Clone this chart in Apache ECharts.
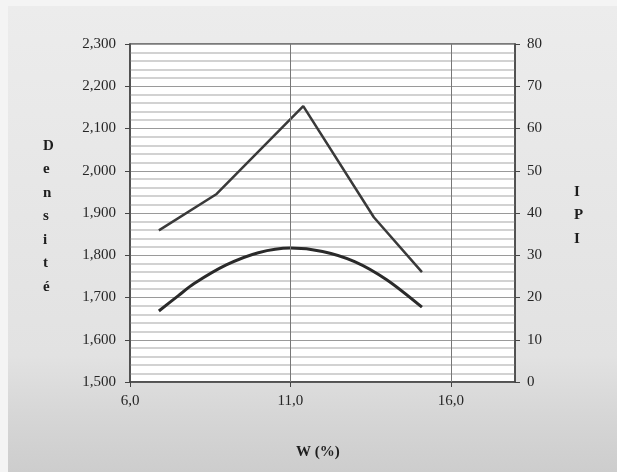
<!DOCTYPE html>
<html>
<head>
<meta charset="utf-8">
<script src="https://cdn.jsdelivr.net/npm/echarts@6/dist/echarts.min.js"></script>
<style>
html,body{margin:0;padding:0;background:#f4f4f4;}
#chart{width:617px;height:472px;}
</style>
</head>
<body>
<div id="chart"></div>
<script>
// IPI curve (right axis)
const ipiW = [6.9, 8.7, 11.4, 13.6, 15.1];
const ipiValues = [35.9, 44.5, 65.3, 39.0, 26.0];
// Density curve (left axis)
const densW = [6.9, 7.5, 8.0, 9.0, 10.0, 11.0, 12.0, 13.0, 14.0, 15.1];
const densValues = [1668, 1704, 1733, 1777, 1806, 1817, 1809, 1785, 1742, 1677];
const xTicks = [6, 11, 16];
const leftTitle = 'Densité';
const rightTitle = 'IPI';
const xTitle = 'W (%)';

const chart = echarts.init(document.getElementById('chart'));
const fmtThousands = v => {
  const s = String(Math.round(v));
  return s.length > 3 ? s.slice(0, s.length - 3) + ',' + s.slice(-3) : s;
};
const serif = 'Liberation Serif';
const option = {
  animation: false,
  backgroundColor: 'transparent',
  graphic: [
    {type: 'rect', z: -10, shape: {x: 8, y: 6, width: 609, height: 466},
     style: {fill: new echarts.graphic.LinearGradient(0, 0, 0, 1, [
       {offset: 0, color: '#ececec'}, {offset: 0.75, color: '#e2e2e2'},
       {offset: 0.88, color: '#d6d6d6'}, {offset: 1, color: '#cdcdcd'}])}},
    {type: 'text', left: 43, top: 134, style: {text: leftTitle.split('').join('\n'), font: 'bold 15px "Liberation Serif"', lineHeight: 23.5, fill: '#1e1e1e', align: 'center'}},
    {type: 'text', left: 574, top: 180, style: {text: rightTitle.split('').join('\n'), font: 'bold 15px "Liberation Serif"', lineHeight: 23.5, fill: '#1e1e1e', align: 'center'}},
    {type: 'text', left: 296, top: 445, style: {text: xTitle, font: 'bold 15px "Liberation Serif"', fill: '#1e1e1e'}}
  ],
  grid: {left: 130, right: 102, top: 44, bottom: 90, show: true, backgroundColor: '#ffffff', borderColor: '#555', borderWidth: 1.5},
  xAxis: {
    type: 'value', min: 6, max: 18,
    axisLine: {show: true, lineStyle: {color: '#444', width: 1.5}},
    axisTick: {show: true, customValues: xTicks, length: 5, lineStyle: {color: '#444'}},
    axisLabel: {customValues: xTicks, formatter: v => v.toFixed(1).replace('.', ','), fontFamily: serif, fontSize: 15, color: '#262626', margin: 12},
    splitLine: {show: false}
  },
  yAxis: [
    {
      type: 'value', min: 1500, max: 2300, interval: 100, position: 'left',
      axisLine: {show: true, lineStyle: {color: '#444', width: 1.5}},
      axisTick: {show: true, length: 5, lineStyle: {color: '#444'}},
      axisLabel: {formatter: fmtThousands, fontFamily: serif, fontSize: 15, color: '#262626', margin: 14},
      splitLine: {show: true, lineStyle: {color: '#9a9a9a', width: 1}},
      minorTick: {show: false, splitNumber: 5},
      minorSplitLine: {show: true, lineStyle: {color: '#c4c4c4', width: 1.5}}
    },
    {
      type: 'value', min: 0, max: 80, interval: 10, position: 'right',
      axisLine: {show: true, lineStyle: {color: '#444', width: 1.5}},
      axisTick: {show: true, length: 5, lineStyle: {color: '#444'}},
      axisLabel: {fontFamily: serif, fontSize: 15, color: '#262626', margin: 12},
      splitLine: {show: false}
    }
  ],
  series: [
    {
      type: 'line', yAxisIndex: 1, symbol: 'none',
      data: ipiW.map((w, i) => [w, ipiValues[i]]),
      lineStyle: {color: '#3a3a3a', width: 2.5},
      markLine: {silent: true, symbol: 'none', label: {show: false},
        lineStyle: {color: '#777', width: 1, type: 'solid'},
        data: [{xAxis: 11}, {xAxis: 16}]}
    },
    {
      type: 'line', yAxisIndex: 0, symbol: 'none', smooth: 0.3,
      data: densW.map((w, i) => [w, densValues[i]]),
      lineStyle: {color: '#2a2a2a', width: 3}
    }
  ]
};
chart.setOption(option);
</script>
</body>
</html>
